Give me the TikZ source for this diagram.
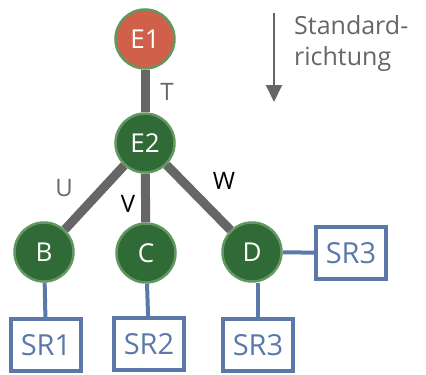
\documentclass[tikz,border=0pt]{standalone}
\usepackage{fontspec}
\setmainfont{Open Sans}
\usetikzlibrary{arrows.meta}
\definecolor{rootfill}{HTML}{D0604A}
\definecolor{nodefill}{HTML}{2F6A37}
\definecolor{nodering}{HTML}{62985F}
\definecolor{edgegray}{HTML}{666666}
\definecolor{srblue}{HTML}{5B78A8}
\tikzset{
  vert/.style={circle, draw=nodering, line width=2.5pt, minimum size=59pt, inner sep=0pt,
    text=white, font=\fontsize{26}{26}\selectfont},
  root/.style={vert, fill=rootfill},
  inner/.style={vert, fill=nodefill},
  srbox/.style={rectangle, draw=srblue, line width=3.5pt, fill=white, minimum width=70pt,
    minimum height=52pt, inner sep=0pt, text=srblue, font=\fontsize{29}{29}\selectfont},
  tree/.style={edgegray, line width=9pt},
  link/.style={srblue, line width=4pt},
  lbl/.style={font=\fontsize{24}{24}\selectfont},
}
\begin{document}
\begin{tikzpicture}[x=1pt, y=-1pt]
\useasboundingbox (0,0) rectangle (426,375);
% vertices
\node[root]  (e1) at (145,39)  {E1};
\node[inner] (e2) at (145,143) {E2};
\node[inner] (b)  at (44,252)  {B};
\node[inner] (c)  at (146,253) {C};
\node[inner] (d)  at (252,252) {D};
% attached boxes
\node[srbox] (sr1)  at (46,345)  {SR1};
\node[srbox] (sr2)  at (149,344) {SR2};
\node[srbox] (sr3b) at (258,345) {SR3};
\node[srbox] (sr3r) at (351,253) {SR3};
% tree edges
\draw[tree] (e1) -- (e2);
\draw[tree] (e2) -- (b);
\draw[tree] (e2) -- (c);
\draw[tree] (e2) -- (d);
% links to boxes
\draw[link] (b) -- (sr1);
\draw[link] (c) -- (sr2);
\draw[link] (d.south -| sr3b) -- (sr3b);
\draw[link] (d) -- (sr3r);
% edge labels
\node[lbl, text=edgegray] (lt) at (167,92)  {T};
\node[lbl, text=edgegray] (lu) at (64,188)  {U};
\node[lbl]                (lv) at (128,204) {V};
\node[lbl]                (lw) at (224,181) {W};
% direction hint
\coordinate (as) at (274,13);
\coordinate (ae) at (274,102);
\draw[edgegray, line width=2pt, -{Triangle[length=17pt, width=16pt]}] (as) -- (ae);
\node[anchor=north west, align=left, text=edgegray, inner sep=0pt,
  font=\fontsize{25}{31}\selectfont] (dir) at (294,15) {Standard-\\richtung};
\end{tikzpicture}
\end{document}
